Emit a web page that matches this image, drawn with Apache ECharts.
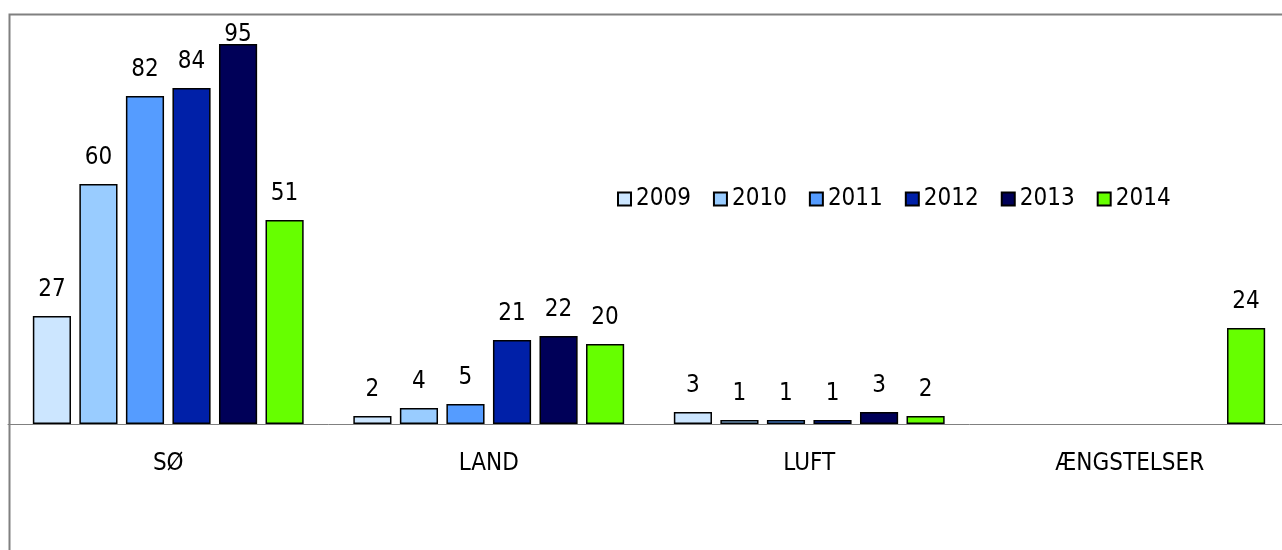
<!DOCTYPE html>
<html>
<head>
<meta charset="utf-8">
<script src="https://cdn.jsdelivr.net/npm/echarts@6/dist/echarts.min.js"></script>
<style>
html,body{margin:0;padding:0;background:#fff;overflow:hidden;}
#c{width:1300px;height:550px;}
</style>
</head>
<body>
<div id="c"></div>
<script>
const categories = ['SØ', 'LAND', 'LUFT', 'ÆNGSTELSER'];
const years = ['2009', '2010', '2011', '2012', '2013', '2014'];
const v2009 = [27, 2, 3, null];
const v2010 = [60, 4, 1, null];
const v2011 = [82, 5, 1, null];
const v2012 = [84, 21, 1, null];
const v2013 = [95, 22, 3, null];
const v2014 = [51, 20, 2, 24];
const colors = ['#cce6ff', '#99ccff', '#559cff', '#0020a8', '#000058', '#66ff00'];

const seriesData = [v2009, v2010, v2011, v2012, v2013, v2014];
const FONT = 'DejaVu Sans Condensed';
const YMAX = 100;

const chart = echarts.init(document.getElementById('c'), null, {renderer: 'canvas'});
chart.setOption({
  animation: false,
  backgroundColor: '#fff',
  textStyle: {fontFamily: FONT},
  grid: {left: 8, top: 24, width: 1282, height: 400, containLabel: false},
  legend: {
    left: 612, top: 182,
    itemWidth: 13, itemHeight: 13, itemGap: 22,
    icon: 'rect',
    textStyle: {fontFamily: FONT, fontSize: 24, color: '#000', padding: [0, 0, 0, 0]},
    data: years
  },
  xAxis: {
    type: 'category',
    data: categories,
    axisLine: {lineStyle: {color: '#808080', width: 1}},
    axisTick: {show: false},
    axisLabel: {color: '#000', fontFamily: FONT, fontSize: 24, margin: 28}
  },
  yAxis: {
    type: 'value', min: 0, max: YMAX, show: false,
    splitLine: {show: false}
  },
  graphic: [{
    type: 'rect', left: 7, top: 12, silent: true, z: -1,
    shape: {x: 0, y: 0, width: 1400, height: 700},
    style: {fill: 'none', stroke: '#808080', lineWidth: 2}
  }],
  series: years.map((y, i) => ({
    name: y,
    type: 'bar',
    // labels that would run past the chart's top edge are pulled down, as in the source
    data: seriesData[i].map(v => (v != null && v > YMAX - 10)
      ? {value: v, label: {distance: -3}} : v),
    barCategoryGap: '15.5%',
    barGap: '22%',
    itemStyle: {color: colors[i], borderColor: '#000', borderWidth: 1.5},
    label: {show: true, position: 'top', distance: 14, color: '#000', fontFamily: FONT, fontSize: 24}
  }))
});
</script>
</body>
</html>
